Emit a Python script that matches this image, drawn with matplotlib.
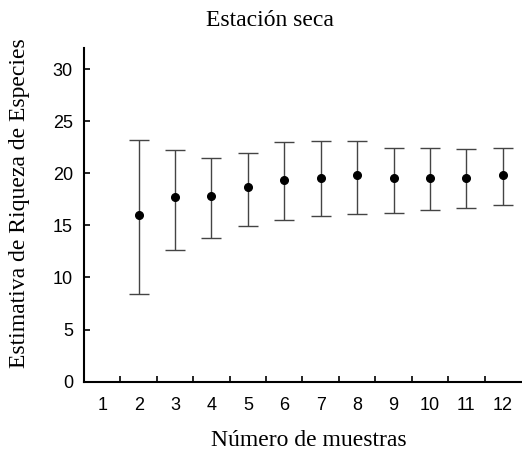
import numpy as np
import matplotlib.pyplot as plt

# data
muestras = [2, 3, 4, 5, 6, 7, 8, 9, 10, 11, 12]
riqueza = [16.0, 17.7, 17.85, 18.65, 19.4, 19.6, 19.8, 19.6, 19.6, 19.6, 19.8]
limite_sup = [23.2, 22.2, 21.5, 22.0, 23.0, 23.1, 23.1, 22.45, 22.4, 22.3, 22.4]
limite_inf = [8.4, 12.6, 13.8, 14.9, 15.55, 15.9, 16.05, 16.2, 16.5, 16.7, 16.95]
xlabels = [str(i) for i in range(1, 13)]

riqueza = np.array(riqueza)
err = [riqueza - np.array(limite_inf), np.array(limite_sup) - riqueza]

fig = plt.figure(figsize=(5.22, 4.57), dpi=100)
ax = fig.add_axes([0.161, 0.165, 0.837, 0.729])

ax.errorbar(muestras, riqueza, yerr=err, fmt='o', color='black', ms=5.5,
            ecolor='#444444', elinewidth=1, capsize=7, capthick=1)

ax.set_xlim(0.5, 12.5)
ax.set_ylim(0, 32)
ax.set_yticks([0, 5, 10, 15, 20, 25, 30])
ax.set_xticks(range(1, 13))
ax.set_xticklabels(xlabels)
ax.set_xticks(np.arange(1.5, 12.5, 1), minor=True)
ax.tick_params(axis='x', which='major', length=0, pad=11)
ax.tick_params(axis='x', which='minor', direction='in', length=4, width=1.2)
ax.tick_params(axis='y', direction='in', length=4, width=1.2, pad=8)
for lab in ax.get_xticklabels() + ax.get_yticklabels():
    lab.set_fontfamily('Liberation Sans')
    lab.set_fontsize(13)

for s in ['top', 'right']:
    ax.spines[s].set_visible(False)
ax.spines['left'].set_linewidth(1.5)
ax.spines['bottom'].set_linewidth(1.5)

fig.text(270/522, 1 - 20/457, 'Estación seca', ha='center', va='center',
         family='Liberation Serif', fontsize=17)
fig.text(309/522, 1 - 440/457, 'Número de muestras', ha='center', va='center',
         family='Liberation Serif', fontsize=17)
fig.text(20/522, 1 - 203/457, 'Estimativa de Riqueza de Especies', ha='center',
         va='center', rotation=90, family='Liberation Serif', fontsize=17)

fig.savefig('out.png', dpi=100)
